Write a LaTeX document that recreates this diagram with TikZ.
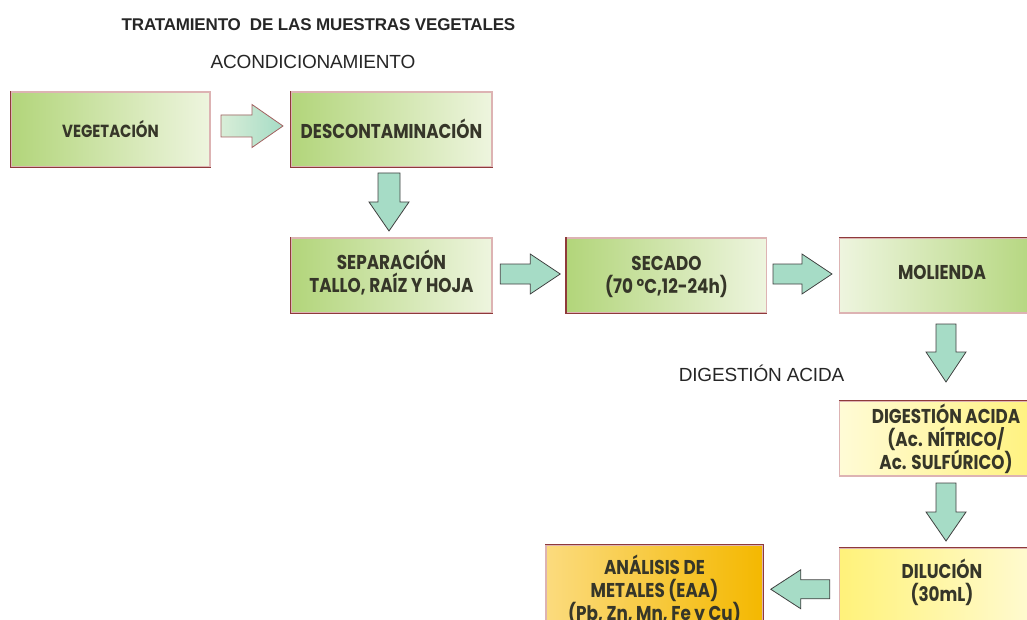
\documentclass[tikz,border=0pt]{standalone}
\usepackage{fontspec}
\setmainfont{Liberation Sans}
\newfontfamily\titlefont{Liberation Sans}[LetterSpace=-1]
\newfontfamily\boxfont{Poppins}
\usetikzlibrary{calc}
\definecolor{gdark}{HTML}{B2D57A}
\definecolor{gpale}{HTML}{EEF5DF}
\definecolor{ydark}{HTML}{FFF27A}
\definecolor{ypale}{HTML}{FFFBD6}
\definecolor{odark}{HTML}{F4B800}
\definecolor{opale}{HTML}{FBDB7E}
\definecolor{mint}{HTML}{A6DCC6}
\definecolor{bpale}{HTML}{DDB3B3}
\definecolor{bdark}{HTML}{8E3A3A}
\definecolor{txt}{HTML}{363629}
% lines separated by \cr, fixed baseline distance
\newcommand{\bt}[2][0.84]{\scalebox{#1}[1]{\vbox{\lineskiplimit=-100pt\lineskip=0pt
  \halign{\hfil##\hfil\cr#2\crcr}}}}
% shift box content vertically without changing its reported size
\newcommand{\vmove}[2]{\raisebox{#1}[\height][\depth]{#2}}
% \blockarr[style]{coord}{rotation}{length}{head width}{shaft width}{head length}
\newcommand{\blockarr}[7][]{%
  \begin{scope}[shift={(#2)}, rotate=#3]
    \path[arrowbody, #1] (-#4/2,-#6/2) -- (#4/2-#7,-#6/2) -- (#4/2-#7,-#5/2) -- (#4/2,0)
      -- (#4/2-#7,#5/2) -- (#4/2-#7,#6/2) -- (-#4/2,#6/2) -- cycle;
  \end{scope}}
\tikzset{
  procbox/.style={draw=bpale, line width=1.1pt, minimum height=75pt, inner sep=0pt,
    font=\boxfont\bfseries\fontsize{20}{23}\selectfont, text=txt},
  arrowbody/.style={draw=black!75, fill=mint, line width=0.8pt, line join=miter},
  plain/.style={font=\titlefont\fontsize{19}{22}\selectfont, text=black!85, inner sep=0pt},
}
\begin{document}
\begin{tikzpicture}[x=1pt,y=-1pt]
\useasboundingbox (0,0) rectangle (1027,620);
\clip (0,0) rectangle (1027,620);
% titles
\node[plain, font=\titlefont\bfseries\fontsize{17}{20}\selectfont] (title) at (318.5,25) {TRATAMIENTO\ \ DE LAS MUESTRAS VEGETALES};
\node[plain] (acond) at (313,62) {ACONDICIONAMIENTO};
\node[plain] (diglab) at (761.5,373) {DIGESTIÓN ACIDA};
% boxes
\node[procbox, minimum width=199pt, left color=gdark, right color=gpale] (veg) at (110.5,129.5)
  {\fontsize{17.5}{20}\selectfont\bt[0.85]{VEGETACIÓN}};
\node[procbox, minimum width=201pt, left color=gdark, right color=gpale] (desc) at (391.5,129.5)
  {\vmove{1pt}{\bt{DESCONTAMINACIÓN}}};
\node[procbox, minimum width=201pt, left color=gdark, right color=gpale] (sep) at (391.5,275.5)
  {\vmove{3pt}{\bt{SEPARACIÓN\cr TALLO, RAÍZ Y HOJA}}};
\node[procbox, minimum width=200pt, left color=gdark, right color=gpale] (sec) at (666.5,275.5)
  {\vmove{-1pt}{\bt{SECADO\cr (70 ºC,12-24h)}}};
\node[procbox, minimum width=205pt, left color=gpale, right color=gdark] (mol) at (942,275.5)
  {\vmove{3pt}{\bt{MOLIENDA}}};
\node[procbox, minimum width=205pt, left color=ypale, right color=ydark] (dig) at (942,438.5)
  {\hspace{8pt}\bt{DIGESTIÓN ACIDA\cr (Ac. NÍTRICO/\cr Ac. SULFÚRICO)}};
\node[procbox, minimum width=205pt, left color=ydark, right color=ypale] (dil) at (942,585.5)
  {\vmove{3pt}{\bt{DILUCIÓN\cr (30mL)}}};
\node[procbox, minimum width=217pt, minimum height=76pt, left color=opale, right color=odark] (ana) at (654.5,583)
  {\vmove{-7pt}{\bt{ANÁLISIS DE\cr METALES (EAA)\cr (Pb, Zn, Mn, Fe y Cu)}}};
% darker edges
\foreach \n in {veg,desc,sep,sec}
  \draw[bdark, line width=1.1pt] (\n.north west) -- (\n.south west) -- (\n.south east);
\foreach \n in {mol,dig,dil,ana}
  \draw[bdark, line width=1.1pt] (\n.north west) -- (\n.north east) -- (\n.south east);
% arrow positions
\coordinate (a1) at ($(veg.east)!0.5!(desc.west)+(1.5,-3.5)$);
\coordinate (a2) at ($(desc.south)!0.5!(sep.north)+(-2.5,-0.5)$);
\coordinate (a3) at ($(sep.east)!0.5!(sec.west)+(1,-1.5)$);
\coordinate (a4) at ($(sec.east)!0.5!(mol.west)+(-0.5,-1.5)$);
\coordinate (a5) at ($(mol.south)!0.5!(dig.north)+(4,-4)$);
\coordinate (a6) at ($(dig.south)!0.5!(dil.north)+(4,0)$);
\coordinate (a7) at ($(dil.west)!0.5!(ana.east)+(-1,5)$);
% arrows
\blockarr[draw=bdark!80, left color=gpale!70!mint, right color=mint]{a1}{0}{62}{43}{22}{31}
\blockarr{a2}{-90}{58}{40}{22}{29}
\blockarr{a3}{0}{60}{40}{20}{30}
\blockarr{a4}{0}{59}{40}{20}{30}
\blockarr{a5}{-90}{58}{40}{20}{30}
\blockarr{a6}{-90}{58}{40}{20}{29}
\blockarr{a7}{180}{59}{39}{19}{30}
\end{tikzpicture}
\end{document}
